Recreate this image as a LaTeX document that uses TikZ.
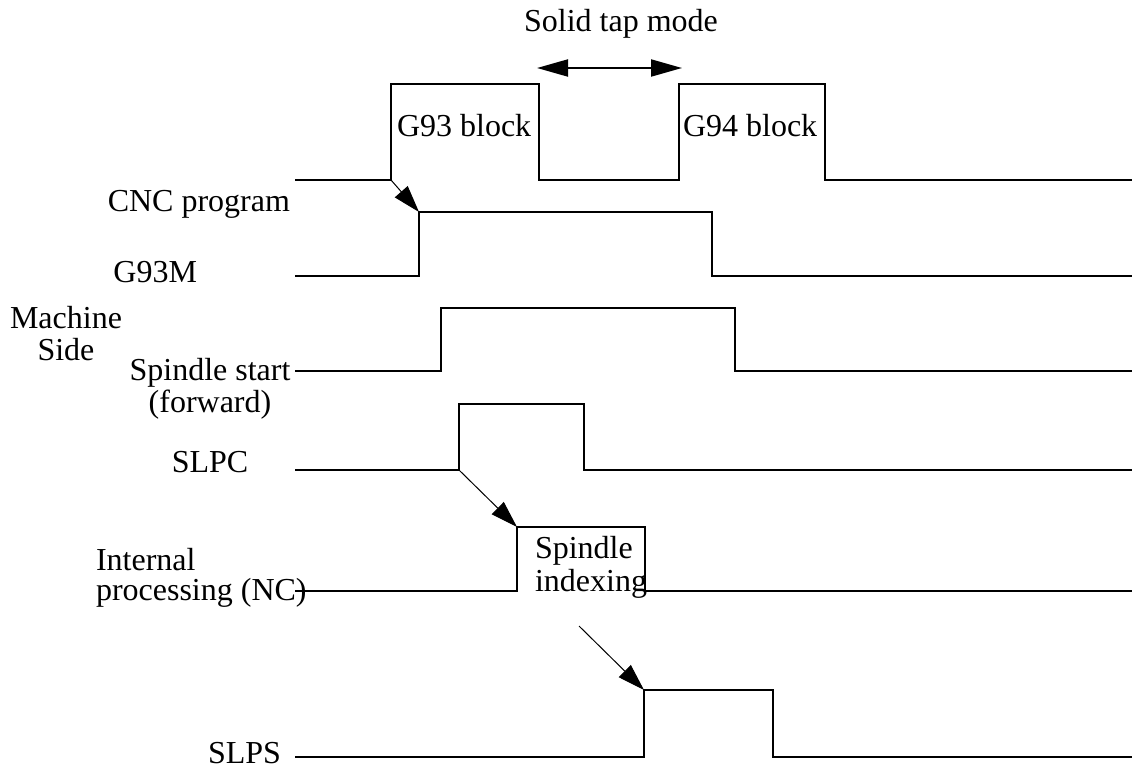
\documentclass[tikz,border=0pt]{standalone}
\usepackage{fontspec}
\setmainfont{Liberation Serif}
\usetikzlibrary{arrows.meta}
\begin{document}
\begin{tikzpicture}[x=1pt,y=-1pt,
  wave/.style={line width=2pt, line join=miter},
  cause/.style={line width=1pt, -{Triangle[length=27pt,width=17pt]}},
  span/.style={line width=2pt, {Triangle[length=31pt,width=17pt]}-{Triangle[length=31pt,width=17pt]}},
  lbl/.style={inner sep=0pt, outer sep=0pt, font=\fontsize{32}{32}\selectfont},
]
\useasboundingbox (0,0) rectangle (1132,768);

% ---- signal edges used by the cause arrows ----
\coordinate (cncUp)   at (391,180);
\coordinate (gmUp)    at (419,212);
\coordinate (slpcUp)  at (459,470);
\coordinate (idxUp)   at (517,527);
\coordinate (idxSrc)  at (579,626);
\coordinate (slpsUp)  at (644,690);
\coordinate (tapL)    at (537,68);
\coordinate (tapR)    at (682,68);

% ---- waveforms ----
% CNC program
\draw[wave] (295,180) -- (cncUp) -- (391,84) -- (539,84) -- (539,180)
  -- (679,180) -- (679,84) -- (825,84) -- (825,180) -- (1132,180);
% G93M
\draw[wave] (295,276) -- (419,276) -- (gmUp) -- (712,212) -- (712,276) -- (1132,276);
% Spindle start (forward)
\draw[wave] (295,371) -- (441,371) -- (441,308) -- (735,308) -- (735,371) -- (1132,371);
% SLPC
\draw[wave] (295,470) -- (slpcUp) -- (459,404) -- (584,404) -- (584,470) -- (1132,470);
% Internal processing (NC)
\draw[wave] (295,591) -- (517,591) -- (idxUp) -- (645,527) -- (645,591) -- (1132,591);
% SLPS
\draw[wave] (295,757) -- (644,757) -- (slpsUp) -- (773,690) -- (773,757) -- (1132,757);

% ---- cause / effect arrows ----
\draw[cause] (cncUp) -- (gmUp);
\draw[cause] (slpcUp) -- (idxUp);
\draw[cause] (idxSrc) -- (slpsUp);
\draw[span] (tapL) -- (tapR);

% ---- labels (multi-line nodes sit on the baseline of their last line) ----
\node[lbl, anchor=base] (tap) at (621,32) {Solid tap mode};
\node[lbl, anchor=base west] (g93) at (397,136) {G93 block};
\node[lbl, anchor=base west] (g94) at (683,136) {G94 block};
\node[lbl, anchor=base east] (cnc) at (290,211) {CNC program};
\node[lbl, anchor=base east] (g93m) at (197,282) {G93M};
\node[lbl, anchor=base, align=center] (mach) at (66,360) {Machine\\Side};
\node[lbl, anchor=base, align=center] (spst) at (210,412) {Spindle start\\(forward)};
\node[lbl, anchor=base] (slpc) at (210,472) {SLPC};
\node[lbl, anchor=base west, align=left, font=\fontsize{32}{30}\selectfont] (intp) at (96,600) {Internal\\processing (NC)};
\node[lbl, anchor=base west, align=left, font=\fontsize{32}{33}\selectfont] (sidx) at (535,591) {Spindle\\indexing};
\node[lbl, anchor=base east] (slps) at (281,763) {SLPS};
\end{tikzpicture}
\end{document}
